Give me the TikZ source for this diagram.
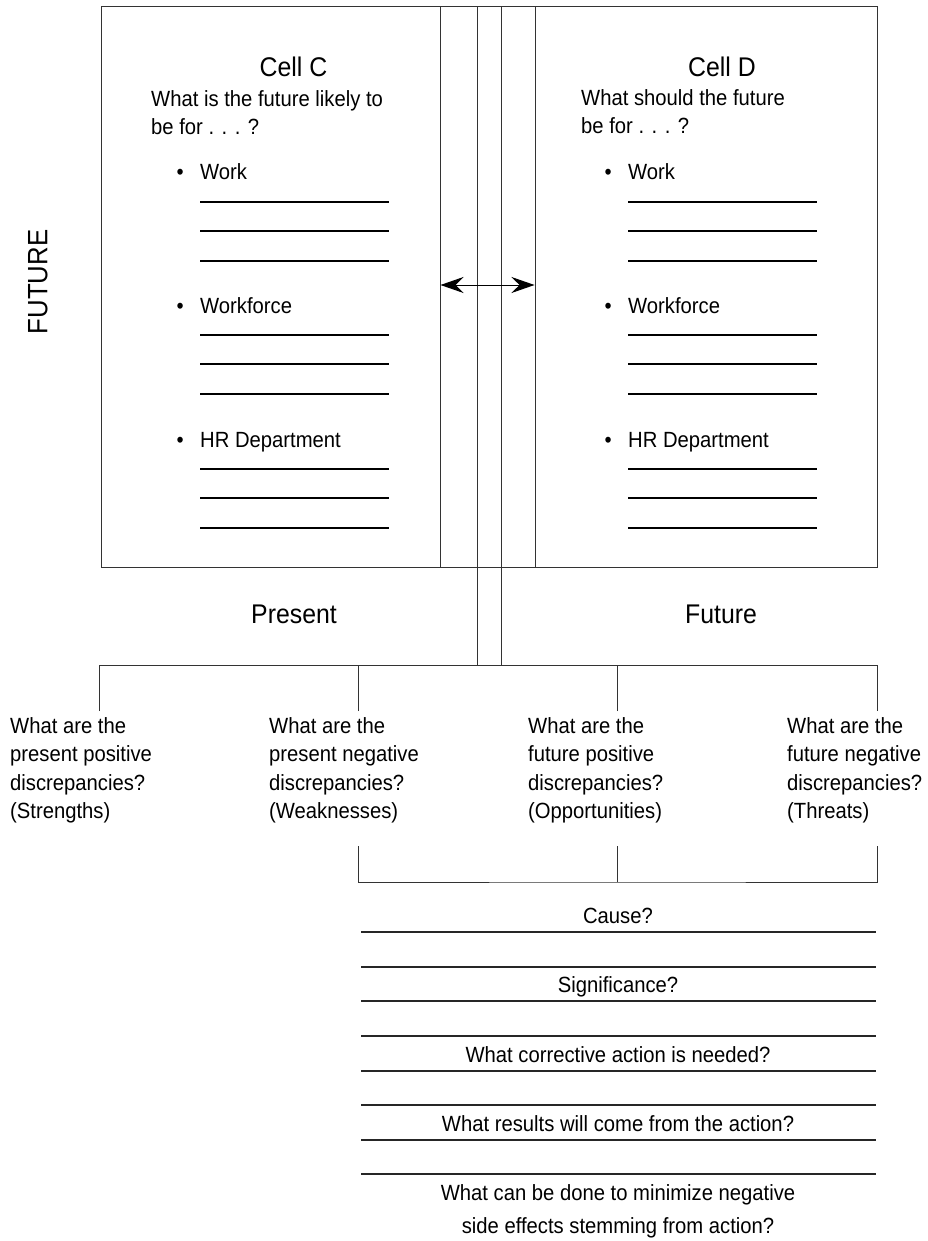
\documentclass[tikz,border=0pt]{standalone}
\usepackage{fontspec}
\setmainfont{Liberation Sans}[FakeStretch=0.92]
\usetikzlibrary{arrows.meta,positioning}
\newcommand{\bodyfont}{\fontsize{22}{28.5}\selectfont}
\newcommand{\headfont}{\fontsize{27}{32}\selectfont}
\begin{document}
\begin{tikzpicture}[x=1pt,y=-1pt,
    every node/.style={inner sep=0pt,font=\bodyfont},
    cellbox/.style={draw=black!80,line width=1pt,minimum
        height=560pt},link/.style={draw=black!80,line width=1pt},
    >={Stealth[length=23pt,width=16pt,inset=8pt]}]
    \tikzstyle{head}=[anchor=base,font=\headfont]
    \tikzstyle{ques}=[anchor=north west,align=left]
    \tikzstyle{blank}=[line width=1.5pt]
    \tikzstyle{rule}=[draw=black!85,line width=1.2pt]

    \useasboundingbox (0,0) rectangle (927,1241);

    % the two cells
    \node[cellbox,minimum width=339pt] (boxC) at (270.5,287) {};
    \node[cellbox,minimum width=342pt] (boxD) at (706,287) {};
    \draw[link] (boxC.north east) -- (boxD.north west);
    \draw[link] (boxC.south east) -- (boxD.south west);

    \node[head] (cellC) at (293.5,77) {Cell C};
    \node[head] (cellD) at (722,77) {Cell D};
    \node[ques] (askC) at (151,90) {What is the future likely to\\be for . . . ?};
    \node[ques] (askD) at (581,89) {What should the future\\be for . . . ?};

    \foreach \cx/\cell in {0/C,428/D}
      \foreach \y/\item [count=\i] in {180/Work,313/Workforce,447/HR Department} {
        \node[anchor=base west] (item\cell\i) at (200+\cx,\y) {\item};
        \node[base left=16pt of item\cell\i.base west] (dot\cell\i) {\textbullet};
        \foreach \d in {22,51,81}
          \draw[blank] (200+\cx,\y+\d) -- +(189,0);
      }

    \node[rotate=90,font=\fontsize{28}{32}\selectfont] (future) at (38,282) {FUTURE};

    % channel between the cells
    \coordinate (hubL) at (477,665);
    \coordinate (hubR) at (501,665);
    \draw[link] (hubL |- boxC.north) -- (hubL);
    \draw[link] (hubR |- boxC.north) -- (hubR);
    \draw[<->,line width=1pt] ([yshift=2pt]boxC.east) -- ([yshift=2pt]boxD.west);

    \node[head] (nowlabel) at (294,623) {Present};
    \node[head] (laterlabel) at (721,623) {Future};

    % the four questions
    \node[ques] (qS) at (10,717) {What are the\\present positive\\discrepancies?\\(Strengths)};
    \node[ques] (qW) at (269,717) {What are the\\present negative\\discrepancies?\\(Weaknesses)};
    \node[ques] (qO) at (528,717) {What are the\\future positive\\discrepancies?\\(Opportunities)};
    \node[ques] (qT) at (787,717) {What are the\\future negative\\discrepancies?\\(Threats)};

    \coordinate (topS) at (99,711);
    \coordinate (topW) at (358,711);
    \coordinate (topO) at (617,711);
    \coordinate (topT) at (877,711);
    \draw[link] (topS) -- (topS |- hubL) -| (topT);
    \draw[link] (topW) -- (topW |- hubL);
    \draw[link] (topO) -- (topO |- hubL);

    \coordinate (botW) at (358,846);
    \coordinate (botO) at (617,846);
    \coordinate (botT) at (877,846);
    \coordinate (brace) at (617,882);
    \draw[link] (botW) |- (brace) -| (botT);
    \draw[link] (botO) -- (brace);

    % follow-up questions
    \foreach \y in {932,967,1001,1036,1071,1105,1140,1174}
      \draw[rule] (361,\y) -- (876,\y);
    \node[anchor=base] (cause) at (618,923) {Cause?};
    \node[anchor=base] (signif) at (618,992) {Significance?};
    \node[anchor=base] (fix) at (618,1062) {What corrective action is needed?};
    \node[anchor=base] (result) at (618,1131) {What results will come from the action?};
    \node[anchor=north,align=center] (sideeff) at (618,1184) {What can be done to minimize negative\\[4.5pt]side effects stemming from action?};

\end{tikzpicture}
\end{document}
